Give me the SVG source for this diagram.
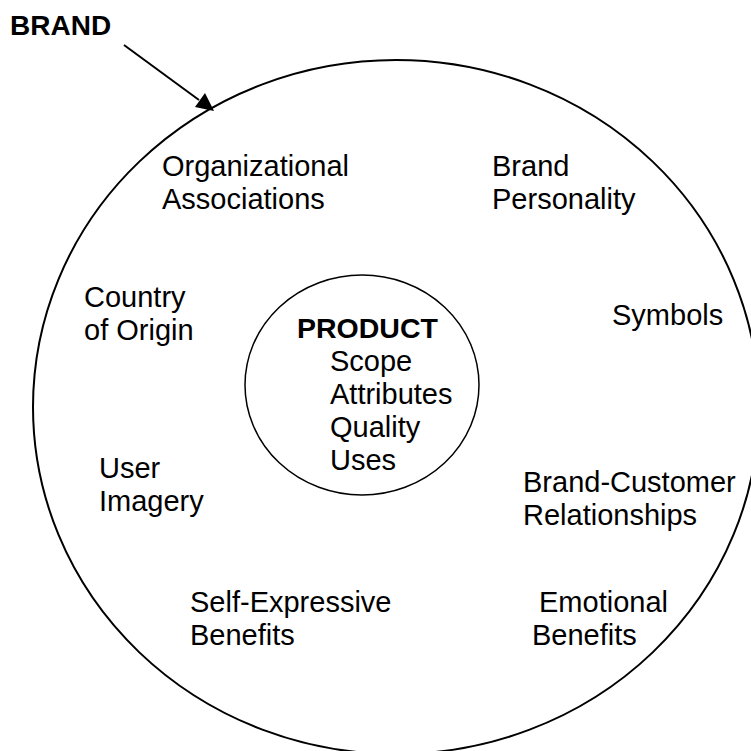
<svg xmlns="http://www.w3.org/2000/svg" width="751" height="751" viewBox="0 0 751 751">
<defs>
<style>
.t{font-family:"Liberation Sans",Arial,sans-serif;font-size:29px;fill:#000}
.b{font-family:"Liberation Sans",Arial,sans-serif;font-weight:bold;fill:#000}
.ring{fill:none;stroke:#000}
</style>
</defs>
<rect width="751" height="751" fill="#fff"/>
<g id="brand">
<ellipse class="ring" cx="396" cy="407" rx="363" ry="347" stroke-width="2"/>
<text class="b" x="10" y="35" font-size="28">BRAND</text>
</g>
<g id="connectors">
<line x1="124" y1="45" x2="199" y2="100" stroke="#000" stroke-width="2"/>
<polygon points="214,111 195,107 205,93" fill="#000"/>
</g>
<g id="product">
<ellipse class="ring" cx="362" cy="385" rx="117" ry="110" stroke-width="1.5"/>
<text class="b" x="297" y="338" font-size="28.5">PRODUCT</text>
<text class="t" x="330" y="371">Scope</text>
<text class="t" x="330" y="404">Attributes</text>
<text class="t" x="330" y="437">Quality</text>
<text class="t" x="330" y="470">Uses</text>
</g>
<g id="organizational">
<text class="t" x="162" y="176">Organizational</text>
<text class="t" x="162" y="209">Associations</text>
</g>
<g id="personality">
<text class="t" x="492" y="176">Brand</text>
<text class="t" x="492" y="209">Personality</text>
</g>
<g id="country">
<text class="t" x="84" y="307">Country</text>
<text class="t" x="84" y="340">of Origin</text>
</g>
<g id="symbols">
<text class="t" x="612" y="325">Symbols</text>
</g>
<g id="user">
<text class="t" x="99" y="478">User</text>
<text class="t" x="99" y="511">Imagery</text>
</g>
<g id="relationships">
<text class="t" x="523" y="492">Brand-Customer</text>
<text class="t" x="523" y="525">Relationships</text>
</g>
<g id="selfexpressive">
<text class="t" x="190" y="612">Self-Expressive</text>
<text class="t" x="190" y="645">Benefits</text>
</g>
<g id="emotional">
<text class="t" x="539" y="612">Emotional</text>
<text class="t" x="532" y="645">Benefits</text>
</g>
</svg>
